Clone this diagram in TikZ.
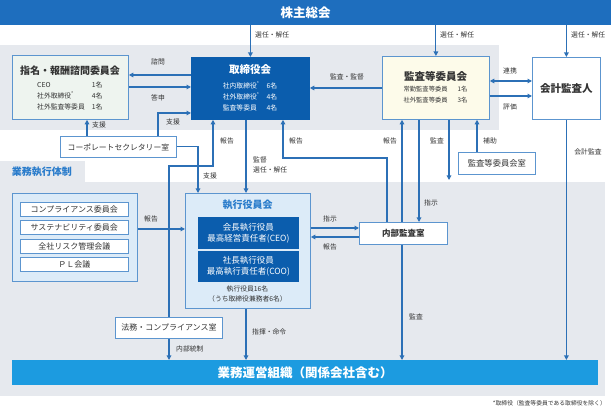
\documentclass[tikz,border=0pt]{standalone}
\usepackage{fontspec}
\setmainfont{Noto Sans CJK JP}
\usetikzlibrary{arrows.meta}
\definecolor{topblue}{HTML}{1E6EBE}
\definecolor{boardblue}{HTML}{0B5DAD}
\definecolor{opsblue}{HTML}{1C9BE0}
\definecolor{greybg}{HTML}{E6E9EE}
\definecolor{lineblue}{HTML}{2C70B6}
\definecolor{boxborder}{HTML}{5C95CF}
\definecolor{lightblue}{HTML}{DCEBF8}
\definecolor{mint}{HTML}{EEF4EF}
\definecolor{cream}{HTML}{FDFBEA}
\definecolor{txt}{HTML}{333333}
\definecolor{titleblue}{HTML}{2A7CCB}
\newcommand\myfs[2]{\fontsize{#1}{#2}\selectfont}
\begin{document}
\begin{tikzpicture}[x=1pt,y=-1pt,
  bx/.style={draw=boxborder, line width=0.8pt, inner sep=0pt, anchor=north west},
  arr/.style={draw=lineblue, line width=1.1pt, -{Triangle[length=4.5pt,width=4.5pt]}},
  dbl/.style={draw=lineblue, line width=1.1pt, {Triangle[length=4.5pt,width=4.5pt]}-{Triangle[length=4.5pt,width=4.5pt]}},
  ln/.style={draw=lineblue, line width=1.1pt},
  lbl/.style={font=\myfs{6.8}{10}, text=txt, inner sep=0pt},
  ttl/.style={font=\myfs{10.5}{12}\bfseries, inner sep=0pt},
  wbox/.style={bx, fill=white, text=txt},
]
\useasboundingbox (0,0) rectangle (611,411);
% backgrounds
\fill[greybg] (0,45) rectangle (499,130);
\fill[greybg] (0,161) rectangle (85,182);
\fill[greybg] (0,182) rectangle (605,396);

% lane coordinates
\coordinate (x87) at (87,0);
\coordinate (x158) at (158,0);
\coordinate (x169) at (169,0);
\coordinate (x198) at (198,0);
\coordinate (x213) at (213,0);
\coordinate (x246) at (246,0);
\coordinate (x283) at (283,0);
\coordinate (x387) at (387,0);
\coordinate (x402) at (402,0);
\coordinate (x419) at (419,0);
\coordinate (x449) at (449,0);
\coordinate (x477) at (477,0);
\coordinate (y75) at (0,75);
\coordinate (y81) at (0,81);
\coordinate (y87) at (0,87);
\coordinate (y88) at (0,88);
\coordinate (y96) at (0,96);
\coordinate (y113) at (0,113);
\coordinate (y158) at (0,158);
\coordinate (y166) at (0,166);
\coordinate (y180) at (0,180);
\coordinate (y228) at (0,228);
\coordinate (y229) at (0,229);
\coordinate (y237) at (0,237);

% top bar
\node[fill=topblue, inner sep=0pt, minimum width=611, minimum height=25, anchor=north west,
      text=white, font=\myfs{12.5}{14}\bfseries] (gm) at (0,0) {株主総会};

% nomination committee
\node[bx, fill=mint, minimum width=116, minimum height=64] (nom) at (12,55) {};
\node[font=\myfs{10}{12}\bfseries, text=txt, inner sep=0pt] (nomt) at (70,71) {指名・報酬諮問委員会};
\node[lbl, anchor=west] (nomr) at (37,96) {\myfs{6.8}{11}\begin{tabular}{@{}l@{\hspace{7pt}}l@{}}CEO & 1名\\ 社外取締役\textsuperscript{*} & 4名\\ 社外監査等委員 & 1名\end{tabular}};

% board
\node[bx, fill=boardblue, draw=boardblue, minimum width=118, minimum height=62] (board) at (191,57) {};
\node[ttl, text=white] (boardt) at (250,70) {取締役会};
\node[lbl, text=white] (boardr) at (250,97) {\myfs{6.8}{11}\begin{tabular}{@{}l@{\hspace{7pt}}l@{}}社内取締役\textsuperscript{*} & 6名\\ 社外取締役\textsuperscript{*} & 4名\\ 監査等委員 & 4名\end{tabular}};

% audit & supervisory committee
\node[bx, fill=cream, minimum width=107, minimum height=63] (audit) at (382,56) {};
\node[ttl, text=txt] (auditt) at (435.5,76) {監査等委員会};
\node[lbl] (auditr) at (435.5,94.5) {\myfs{6.3}{11}\begin{tabular}{@{}l@{\hspace{10pt}}l@{}}常勤監査等委員 & 1名\\ 社外監査等委員 & 3名\end{tabular}};

% accounting auditor
\node[wbox, minimum width=68, minimum height=62, font=\myfs{10.5}{12}\bfseries] (acc) at (532,57) {会計監査人};

% corporate secretary
\node[wbox, minimum width=116, minimum height=21, font=\myfs{7.8}{9}] (cs) at (60,136) {コーポレートセクレタリー室};

% audit committee office
\node[wbox, minimum width=77, minimum height=22, font=\myfs{8.3}{9}] (room) at (458,152) {監査等委員会室};

% business execution tab label
\node[font=\myfs{10}{12}\bfseries, text=titleblue, inner sep=0pt] (bex) at (42,172) {業務執行体制};

% committees
\node[bx, fill=lightblue, minimum width=125, minimum height=88] (com) at (12,193) {};
\node[wbox, line width=0.6pt, minimum width=108, minimum height=14, font=\myfs{8}{9}] (c1) at (20,202) {コンプライアンス委員会};
\node[wbox, line width=0.6pt, minimum width=108, minimum height=14, font=\myfs{8}{9}] (c2) at (20,220.5) {サステナビリティ委員会};
\node[wbox, line width=0.6pt, minimum width=108, minimum height=14, font=\myfs{8}{9}] (c3) at (20,239) {全社リスク管理会議};
\node[wbox, line width=0.6pt, minimum width=108, minimum height=14, font=\myfs{8}{9}] (c4) at (20,257.5) {ＰＬ会議};

% executive officers committee
\node[bx, fill=lightblue, minimum width=125, minimum height=115] (exec) at (185,193) {};
\node[font=\myfs{10}{12}\bfseries, text=titleblue, inner sep=0pt] (exect) at (247.5,205) {執行役員会};
\node[bx, fill=boardblue, draw=boardblue, minimum width=100, minimum height=31, text=white,
      font=\myfs{8.5}{11}, align=center] (ceo) at (198,217) {会長執行役員\\最高経営責任者(CEO)};
\node[bx, fill=boardblue, draw=boardblue, minimum width=100, minimum height=30, text=white,
      font=\myfs{8.5}{11}, align=center] (coo) at (198,251) {社長執行役員\\最高執行責任者(COO)};
\node[lbl, align=center] (execn) at (247.5,294) {執行役員16名\\（うち取締役兼務者6名）};

% internal audit
\node[wbox, minimum width=88, minimum height=22, font=\myfs{8.5}{10}\bfseries] (ia) at (359,222) {内部監査室};

% legal
\node[wbox, minimum width=107, minimum height=21, font=\myfs{8}{9}] (legal) at (115,317) {法務・コンプライアンス室};

% operations bar
\node[fill=opsblue, inner sep=0pt, minimum width=586, minimum height=25, anchor=north west,
      text=white, font=\myfs{12.5}{14}\bfseries] (ops) at (12,360) {業務運営組織（関係会社含む）};

% footnote
\node[font=\myfs{5.8}{7}, text=txt, anchor=east, inner sep=0pt] (foot) at (606,403) {*取締役（監査等委員である取締役を除く）};

% ---- connectors ----
\draw[arr] (board.north |- gm.south) -- (board.north);
\draw[arr] (audit.north |- gm.south) -- (audit.north);
\draw[arr] (acc.north |- gm.south) -- (acc.north);
\node[lbl, anchor=west] (l1) at (255,35) {選任・解任};
\node[lbl, anchor=west] (l2) at (440,35) {選任・解任};
\node[lbl, anchor=west] (l3) at (571,35) {選任・解任};

\draw[arr] (board.west |- y75) -- (nom.east |- y75);
\node[lbl] (l4) at (158,62) {諮問};
\draw[arr] (nom.east |- y87) -- (board.west |- y87);
\node[lbl] (l5) at (158,98) {答申};

\draw[arr] (cs.north -| x87) -- (nom.south -| x87);
\node[lbl, anchor=west] (l6) at (92,125) {支援};
\draw[arr] (cs.north -| x158) |- (board.west |- y113);
\node[lbl, anchor=west] (l7) at (166,122) {支援};

\draw[arr] (audit.west |- y88) -- (board.east |- y88);
\node[lbl] (l8) at (347,77) {監査・監督};
\draw[dbl] (audit.east |- y81) -- (acc.west |- y81);
\node[lbl] (l9) at (510,71) {連携};
\draw[arr] (audit.east |- y96) -- (acc.west |- y96);
\node[lbl] (l10) at (510,107) {評価};

\draw[arr] (legal.north -| x169) |- (y166 -| x213) -- (board.south -| x213);
\node[lbl, anchor=west] (l11) at (220,141) {報告};
\draw[arr] (ia.north -| x387) |- (y158 -| x283) -- (board.south -| x283);
\node[lbl, anchor=west] (l12) at (289,141) {報告};

\draw[arr] (board.south -| x246) -- (exec.north -| x246);
\node[lbl, anchor=north west, align=left] (l13) at (253,157) {監督\\選任・解任};
\draw[arr] (cs.east) -| (exec.north -| x198);
\node[lbl, anchor=west] (l14) at (203,176) {支援};

\draw[arr] (com.east |- y229) -- (exec.west |- y229);
\node[lbl] (l15) at (151,219) {報告};
\draw[arr] (exec.east |- y228) -- (ia.west |- y228);
\node[lbl] (l16) at (330,219) {指示};
\draw[arr] (ia.west |- y237) -- (exec.east |- y237);
\node[lbl] (l17) at (330,247) {報告};

\draw[arr] (ia.north -| x402) -- (audit.south -| x402);
\node[lbl] (l18) at (390,141) {報告};
\draw[arr] (audit.south -| x419) -- (ia.north -| x419);
\node[lbl] (l19) at (431,203) {指示};
\draw[arr] (audit.south -| x449) -- (y180 -| x449);
\node[lbl] (l20) at (437,141) {監査};
\draw[arr] (room.north -| x477) -- (audit.south -| x477);
\node[lbl] (l21) at (490,141) {補助};

\draw[arr] (acc.south) -- (ops.north -| acc.south);
\node[lbl] (l22) at (588,152) {会計監査};
\draw[arr] (ia.south -| x402) -- (ops.north -| x402);
\node[lbl, anchor=west] (l23) at (409,317) {監査};
\draw[arr] (exec.south -| x246) -- (ops.north -| x246);
\node[lbl, anchor=west] (l24) at (252,332) {指揮・命令};
\draw[arr] (legal.south -| x169) -- (ops.north -| x169);
\node[lbl, anchor=west] (l25) at (176,349) {内部統制};
\end{tikzpicture}
\end{document}
